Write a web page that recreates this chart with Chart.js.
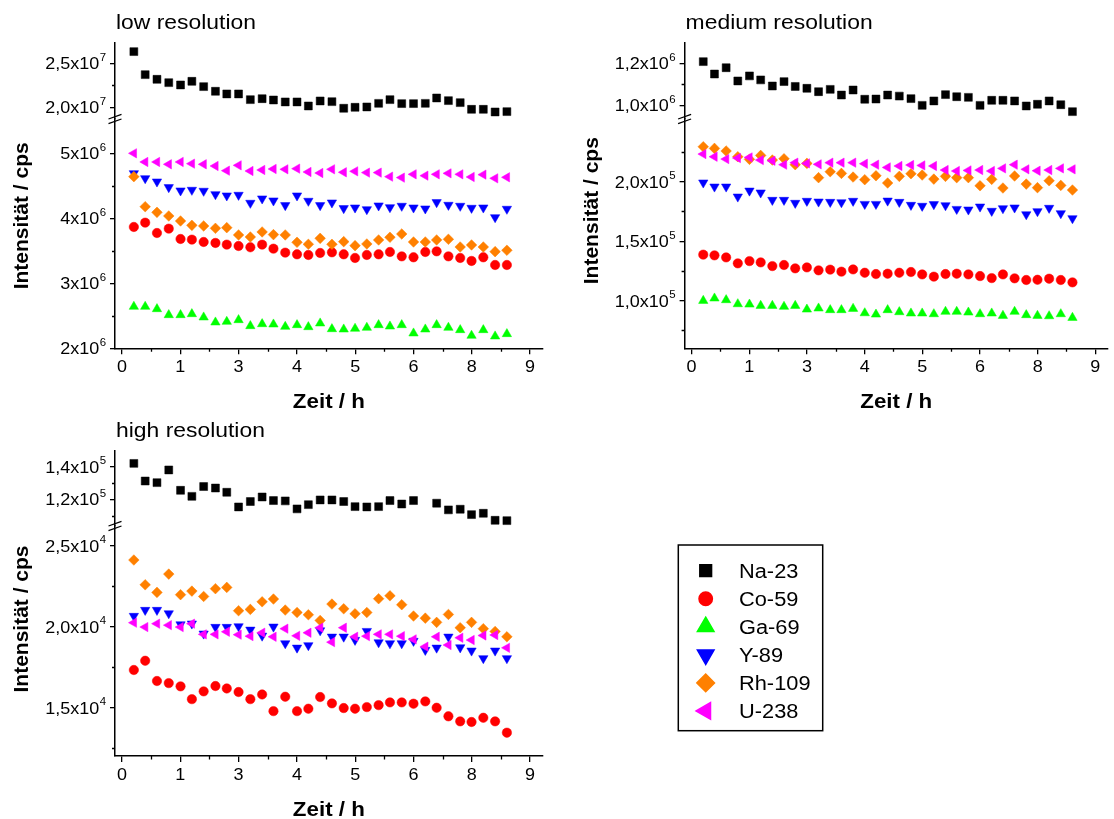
<!DOCTYPE html>
<html>
<head>
<meta charset="utf-8">
<script src="https://cdn.jsdelivr.net/npm/chart.js@4.4.1/dist/chart.umd.min.js"></script>
<style>
  body { margin: 0; background: #fff; width: 1114px; height: 819px; position: relative; overflow: hidden; }
  canvas { position: absolute; }
  #lowChart { left: 0; top: 0; }
  #medChart { left: 560px; top: 0; }
  #highChart { left: 0; top: 412px; }
</style>
</head>
<body>
<canvas id="lowChart" width="560" height="412" style="width:560px;height:412px"></canvas>
<canvas id="medChart" width="554" height="412" style="width:554px;height:412px"></canvas>
<canvas id="highChart" width="1114" height="407" style="width:1114px;height:407px"></canvas>
<script>
//---------------------------- daten ----------------------------
const zeit = [0.26, 0.51, 0.77, 1.03, 1.29, 1.54, 1.80, 2.06, 2.31, 2.57, 2.83, 3.09, 3.34, 3.60, 3.86, 4.11,
  4.37, 4.63, 4.89, 5.14, 5.40, 5.66, 5.91, 6.17, 6.43, 6.69, 6.94, 7.20, 7.46, 7.71, 7.97, 8.23, 8.49];

const isotope = ['Na-23', 'Co-59', 'Ga-69', 'Y-89', 'Rh-109', 'U-238'];
const farben = ['#000000', '#ff0000', '#00ff00', '#0000ff', '#ff8000', '#ff00ff'];
const formen = ['rect', 'circle', 'triangle', 'triangle', 'rectRot', 'triangle'];
const drehung = [0, 0, 0, 180, 0, -90];
const radien = [5.6, 4.7, 5.4, 5.4, 5.3, 5.4];

// low resolution
const lowNa = [2.633e7, 2.371e7, 2.318e7, 2.280e7, 2.254e7, 2.295e7, 2.235e7, 2.182e7, 2.152e7, 2.152e7, 2.087e7,
  2.098e7, 2.083e7, 2.061e7, 2.061e7, 2.015e7, 2.072e7, 2.064e7, 1.989e7, 2.000e7, 2.004e7, 2.045e7, 2.087e7,
  2.042e7, 2.042e7, 2.045e7, 2.106e7, 2.076e7, 2.053e7, 1.977e7, 1.977e7, 1.947e7, 1.951e7];
const lowCo = [3.867e6, 3.933e6, 3.774e6, 3.841e6, 3.682e6, 3.672e6, 3.636e6, 3.621e6, 3.595e6, 3.574e6, 3.554e6,
  3.595e6, 3.533e6, 3.472e6, 3.446e6, 3.436e6, 3.467e6, 3.477e6, 3.446e6, 3.390e6, 3.436e6, 3.446e6, 3.482e6,
  3.415e6, 3.400e6, 3.482e6, 3.492e6, 3.415e6, 3.390e6, 3.344e6, 3.400e6, 3.282e6, 3.282e6];
const lowGa = [2.641e6, 2.641e6, 2.605e6, 2.513e6, 2.513e6, 2.528e6, 2.477e6, 2.400e6, 2.410e6, 2.436e6, 2.344e6,
  2.374e6, 2.369e6, 2.333e6, 2.359e6, 2.328e6, 2.385e6, 2.297e6, 2.292e6, 2.303e6, 2.318e6, 2.359e6, 2.338e6,
  2.359e6, 2.231e6, 2.292e6, 2.359e6, 2.318e6, 2.282e6, 2.195e6, 2.282e6, 2.185e6, 2.221e6];
const lowY = [4.692e6, 4.615e6, 4.564e6, 4.477e6, 4.426e6, 4.436e6, 4.421e6, 4.369e6, 4.349e6, 4.359e6, 4.236e6,
  4.303e6, 4.272e6, 4.200e6, 4.349e6, 4.267e6, 4.200e6, 4.241e6, 4.154e6, 4.164e6, 4.138e6, 4.195e6, 4.169e6,
  4.190e6, 4.164e6, 4.149e6, 4.246e6, 4.205e6, 4.190e6, 4.159e6, 4.164e6, 4.015e6, 4.144e6];
const lowRh = [4.641e6, 4.179e6, 4.092e6, 4.036e6, 3.959e6, 3.892e6, 3.882e6, 3.846e6, 3.856e6, 3.744e6, 3.713e6,
  3.790e6, 3.749e6, 3.744e6, 3.631e6, 3.600e6, 3.692e6, 3.600e6, 3.641e6, 3.579e6, 3.605e6, 3.667e6, 3.708e6,
  3.759e6, 3.636e6, 3.636e6, 3.667e6, 3.677e6, 3.559e6, 3.590e6, 3.559e6, 3.487e6, 3.508e6];
const lowU = [5.000e6, 4.867e6, 4.867e6, 4.831e6, 4.867e6, 4.841e6, 4.831e6, 4.805e6, 4.733e6, 4.815e6, 4.728e6,
  4.744e6, 4.759e6, 4.754e6, 4.764e6, 4.713e6, 4.697e6, 4.754e6, 4.708e6, 4.723e6, 4.703e6, 4.703e6, 4.641e6,
  4.626e6, 4.677e6, 4.656e6, 4.677e6, 4.692e6, 4.677e6, 4.636e6, 4.672e6, 4.615e6, 4.631e6];

// medium resolution
const medNa = [1.208e6, 1.149e6, 1.179e6, 1.116e6, 1.140e6, 1.121e6, 1.092e6, 1.113e6, 1.090e6, 1.081e6, 1.065e6,
  1.076e6, 1.049e6, 1.073e6, 1.029e6, 1.030e6, 1.049e6, 1.044e6, 1.032e6, 1.000e6, 1.021e6, 1.051e6, 1.041e6,
  1.038e6, 1.000e6, 1.024e6, 1.024e6, 1.021e6, 0.997e6, 1.005e6, 1.021e6, 1.003e6, 0.970e6];
const medCo = [1.387e5, 1.381e5, 1.364e5, 1.314e5, 1.333e5, 1.322e5, 1.291e5, 1.300e5, 1.272e5, 1.280e5, 1.255e5,
  1.261e5, 1.244e5, 1.263e5, 1.235e5, 1.224e5, 1.227e5, 1.235e5, 1.241e5, 1.221e5, 1.202e5, 1.224e5, 1.227e5,
  1.221e5, 1.207e5, 1.190e5, 1.221e5, 1.188e5, 1.174e5, 1.176e5, 1.185e5, 1.174e5, 1.154e5];
const medGa = [1.000e5, 1.020e5, 1.006e5, 0.972e5, 0.969e5, 0.958e5, 0.958e5, 0.950e5, 0.958e5, 0.927e5, 0.936e5,
  0.922e5, 0.922e5, 0.933e5, 0.896e5, 0.885e5, 0.922e5, 0.905e5, 0.894e5, 0.894e5, 0.888e5, 0.908e5, 0.908e5,
  0.902e5, 0.888e5, 0.894e5, 0.874e5, 0.908e5, 0.880e5, 0.874e5, 0.871e5, 0.888e5, 0.857e5];
const medY = [1.992e5, 1.958e5, 1.958e5, 1.874e5, 1.924e5, 1.908e5, 1.846e5, 1.846e5, 1.821e5, 1.838e5, 1.832e5,
  1.829e5, 1.826e5, 1.838e5, 1.812e5, 1.812e5, 1.840e5, 1.829e5, 1.804e5, 1.796e5, 1.810e5, 1.801e5, 1.770e5,
  1.765e5, 1.790e5, 1.754e5, 1.776e5, 1.782e5, 1.725e5, 1.751e5, 1.779e5, 1.734e5, 1.692e5];
const medRh = [2.294e5, 2.280e5, 2.258e5, 2.210e5, 2.188e5, 2.221e5, 2.182e5, 2.193e5, 2.143e5, 2.154e5, 2.034e5,
  2.084e5, 2.070e5, 2.039e5, 2.017e5, 2.050e5, 1.989e5, 2.045e5, 2.067e5, 2.056e5, 2.022e5, 2.045e5, 2.034e5,
  2.034e5, 1.966e5, 2.020e5, 1.947e5, 2.048e5, 1.980e5, 1.950e5, 2.008e5, 1.969e5, 1.930e5];
const medU = [2.232e5, 2.210e5, 2.190e5, 2.199e5, 2.204e5, 2.182e5, 2.176e5, 2.143e5, 2.160e5, 2.154e5, 2.146e5,
  2.160e5, 2.160e5, 2.160e5, 2.151e5, 2.143e5, 2.120e5, 2.132e5, 2.140e5, 2.137e5, 2.132e5, 2.098e5, 2.090e5,
  2.095e5, 2.098e5, 2.090e5, 2.112e5, 2.143e5, 2.104e5, 2.092e5, 2.098e5, 2.112e5, 2.104e5];

// high resolution (Ga-69 liegt unterhalb der Skala)
const highNa = [1.420e5, 1.312e5, 1.302e5, 1.380e5, 1.255e5, 1.218e5, 1.278e5, 1.269e5, 1.243e5, 1.153e5, 1.186e5,
  1.214e5, 1.192e5, 1.190e5, 1.141e5, 1.167e5, 1.196e5, 1.196e5, 1.186e5, 1.155e5, 1.153e5, 1.155e5, 1.192e5,
  1.171e5, 1.192e5, null, 1.176e5, 1.135e5, 1.139e5, 1.106e5, 1.114e5, 1.071e5, 1.069e5];
const highCo = [1.733e4, 1.790e4, 1.665e4, 1.652e4, 1.632e4, 1.553e4, 1.601e4, 1.634e4, 1.619e4, 1.597e4, 1.553e4,
  1.582e4, 1.479e4, 1.568e4, 1.479e4, 1.494e4, 1.566e4, 1.527e4, 1.498e4, 1.494e4, 1.504e4, 1.516e4, 1.533e4,
  1.533e4, 1.525e4, 1.539e4, 1.500e4, 1.447e4, 1.416e4, 1.412e4, 1.438e4, 1.416e4, 1.346e4];
const highY = [2.066e4, 2.103e4, 2.103e4, 2.082e4, 2.014e4, 2.019e4, 1.957e4, 1.998e4, 1.998e4, 2.002e4, 1.981e4,
  1.944e4, 2.000e4, 1.897e4, 1.870e4, 1.885e4, 1.977e4, 1.938e4, 1.938e4, 1.918e4, 1.973e4, 1.903e4, 1.897e4,
  1.897e4, 1.912e4, 1.856e4, 1.870e4, 1.938e4, 1.872e4, 1.852e4, 1.805e4, 1.852e4, 1.805e4];
const highRh = [2.412e4, 2.259e4, 2.212e4, 2.325e4, 2.198e4, 2.220e4, 2.187e4, 2.235e4, 2.243e4, 2.099e4, 2.107e4,
  2.154e4, 2.171e4, 2.103e4, 2.088e4, 2.074e4, 2.039e4, 2.140e4, 2.111e4, 2.080e4, 2.088e4, 2.173e4, 2.191e4,
  2.136e4, 2.066e4, 2.053e4, 2.027e4, 2.076e4, 1.994e4, 2.027e4, 1.988e4, 1.971e4, 1.938e4];
const highU = [2.025e4, 1.998e4, 2.019e4, 2.010e4, 1.998e4, 2.019e4, 1.953e4, 1.953e4, 1.969e4, 1.951e4, 1.942e4,
  1.963e4, 1.938e4, 1.988e4, 1.944e4, 1.963e4, 1.994e4, 1.905e4, 1.994e4, 1.938e4, 1.942e4, 1.953e4, 1.953e4,
  1.942e4, 1.922e4, 1.877e4, 1.938e4, 1.887e4, 1.932e4, 1.918e4, 1.946e4, 1.949e4, 1.870e4];

// achsen: zeit-ticks (Origin rundet 9/7-Schritte auf ganze Zahlen)
const xTickWerte = [0, 1.2857, 2.5714, 3.8571, 5.1429, 6.4286, 7.7143, 9];
const xTickText = ['0', '1', '3', '4', '5', '6', '8', '9'];
const xMinor = [0.6429, 1.9286, 3.2143, 4.5, 5.7857, 7.0714, 8.3571];

const lowUpTicks = [2.0e7, 2.5e7], lowUpMinor = [2.25e7];
const lowLowTicks = [2e6, 3e6, 4e6, 5e6], lowLowMinor = [2.5e6, 3.5e6, 4.5e6];
const medUpTicks = [1.0e6, 1.2e6], medUpMinor = [1.1e6];
const medLowTicks = [1.0e5, 1.5e5, 2.0e5], medLowMinor = [0.75e5, 1.25e5, 1.75e5, 2.25e5];
const highUpTicks = [1.2e5, 1.4e5], highUpMinor = [1.1e5, 1.3e5];
const highLowTicks = [1.5e4, 2.0e4, 2.5e4], highLowMinor = [1.25e4, 1.75e4, 2.25e4];

//---------------------------- zeichnen ----------------------------
const SCHRIFT = '"Liberation Sans", Arial, Helvetica, sans-serif';
const BREITE = 1.09;   // schrift leicht gedehnt

function text(ctx, s, x, y, font, align) {
    ctx.save();
    ctx.font = font;
    ctx.textAlign = align;
    ctx.textBaseline = 'alphabetic';
    ctx.translate(x, y);
    ctx.scale(BREITE, 1);
    ctx.fillText(s, 0, 0);
    ctx.restore();
}

function marker(ctx, i, x, y, r) {
    ctx.fillStyle = farben[i];
    ctx.strokeStyle = farben[i];
    Chart.helpers.drawPoint(ctx, { pointStyle: formen[i], rotation: drehung[i], radius: r, borderWidth: 0.5 }, x, y);
}

const deko = {
    id: 'deko',
    afterDraw(chart, args, o) {
        const ctx = chart.ctx;
        const a = chart.chartArea;
        const sx = chart.scales.x;
        ctx.save();
        ctx.fillStyle = '#000';
        ctx.strokeStyle = '#000';
        ctx.lineWidth = 1.3;

        // kleine ticks
        ctx.beginPath();
        xMinor.forEach(v => {
            const px = Math.round(sx.getPixelForValue(v)) + 0.5;
            ctx.moveTo(px, a.bottom);
            ctx.lineTo(px, a.bottom + 3.5);
        });
        ['yUp', 'yLow'].forEach(id => {
            const s = chart.scales[id];
            o.achsen[id].minor.forEach(v => {
                const py = Math.round(s.getPixelForValue(v)) + 0.5;
                ctx.moveTo(a.left, py);
                ctx.lineTo(a.left - 3, py);
            });
        });
        ctx.stroke();

        // x beschriftung
        xTickWerte.forEach((v, k) => {
            text(ctx, xTickText[k], sx.getPixelForValue(v), a.bottom + 24, '16.5px ' + SCHRIFT, 'center');
        });

        // y beschriftung, z.B. 2,5x10^7
        ['yUp', 'yLow'].forEach(id => {
            const s = chart.scales[id];
            const ax = o.achsen[id];
            ax.ticks.forEach(v => {
                const py = s.getPixelForValue(v);
                const m = (v / Math.pow(10, ax.exp)).toFixed(ax.dez).replace('.', ',');
                ctx.font = '10.5px ' + SCHRIFT;
                const ew = ctx.measureText(String(ax.exp)).width * BREITE;
                const rechts = a.left - 9;
                text(ctx, String(ax.exp), rechts - ew, py - 2.3, '10.5px ' + SCHRIFT, 'left');
                text(ctx, m + 'x10', rechts - ew - 0.5, py + 5.9, '16.5px ' + SCHRIFT, 'right');
            });
        });

        // achsenbruch
        const B = chart.scales.yUp.bottom;
        ctx.lineWidth = 1.2;
        [-2.3, 2.3].forEach(d => {
            ctx.beginPath();
            ctx.moveTo(a.left - 6.5, B + d + 2.3);
            ctx.lineTo(a.left + 6.5, B + d - 2.3);
            ctx.stroke();
        });

        // titel
        text(ctx, o.titel, a.left + 1, o.titelY, '21px ' + SCHRIFT, 'left');
        text(ctx, 'Zeit / h', (a.left + a.right) / 2, a.bottom + 60, 'bold 20.5px ' + SCHRIFT, 'center');
        ctx.save();
        ctx.translate(a.left - 87, o.yTitelY);
        ctx.rotate(-Math.PI / 2);
        ctx.font = 'bold 21px ' + SCHRIFT;
        ctx.textAlign = 'center';
        ctx.textBaseline = 'alphabetic';
        ctx.fillText('Intensität / cps', 0, 0);
        ctx.restore();

        // legende
        if (o.legende) {
            const L = o.legende;
            ctx.lineWidth = 1.5;
            ctx.strokeStyle = '#000';
            ctx.strokeRect(L.x, L.y, L.w, L.h);
            isotope.forEach((name, i) => {
                const y = L.y + 25.7 + i * 28.05;
                marker(ctx, i, L.x + 27.4, y, L.r[i]);
                ctx.fillStyle = '#000';
                text(ctx, name, L.x + 60.7, y + 7, '20px ' + SCHRIFT, 'left');
            });
        }
        ctx.restore();
    }
};

function reihe(i, werte, achse) {
    return {
        label: isotope[i],
        data: zeit.map((t, k) => ({ x: t, y: werte[k] })).filter(p => p.y !== null),
        yAxisID: achse,
        showLine: false,
        pointStyle: formen[i],
        rotation: drehung[i],
        pointRadius: radien[i],
        pointBackgroundColor: farben[i],
        pointBorderColor: farben[i],
        pointBorderWidth: 0.5,
        order: 10 - i
    };
}

function yAchse(oben, min, max, ticks, gewicht) {
    return {
        type: 'linear',
        position: 'left',
        stack: 'intensitaet',
        stackWeight: gewicht,
        weight: oben ? 1 : 0,
        min: min,
        max: max,
        afterBuildTicks: s => { s.ticks = ticks.map(v => ({ value: v })); },
        afterFit: s => { s.width = 70; },
        ticks: { display: false },
        grid: { drawOnChartArea: false, drawTicks: true, tickLength: 5, color: '#000', lineWidth: 1.3 },
        border: { display: true, color: '#000', width: 1.5 }
    };
}

function panel(id, p) {
    const el = document.getElementById(id);
    return new Chart(el, {
        type: 'scatter',
        data: { datasets: p.datasets },
        options: {
            responsive: false,
            animation: false,
            events: [],
            layout: {
                padding: {
                    left: p.left - 70,
                    right: el.width - p.right,
                    top: p.top,
                    bottom: el.height - p.bottom - 30
                }
            },
            plugins: {
                legend: { display: false },
                tooltip: { enabled: false },
                deko: p.deko
            },
            scales: {
                x: {
                    type: 'linear',
                    min: -0.156,
                    max: 9.28,
                    afterBuildTicks: s => { s.ticks = xTickWerte.map(v => ({ value: v })); },
                    afterFit: s => { s.height = 30; },
                    ticks: { display: false },
                    grid: { drawOnChartArea: false, drawTicks: true, tickLength: 6, color: '#000', lineWidth: 1.3 },
                    border: { display: true, color: '#000', width: 1.5 }
                },
                yLow: yAchse(false, p.lowMin, p.lowMax, p.lowTicks, p.bottom - p.bruch),
                yUp: yAchse(true, p.upMin, p.upMax, p.upTicks, p.bruch - p.top)
            }
        },
        plugins: [deko]
    });
}

//----------------------------low resolution----------------------------
panel('lowChart', {
    left: 115, right: 542.7, top: 42.7, bruch: 119, bottom: 348.3,
    upMin: 1.867e7, upMax: 2.734e7, upTicks: lowUpTicks,
    lowMin: 2e6, lowMax: 5.528e6, lowTicks: lowLowTicks,
    datasets: [
        reihe(0, lowNa, 'yUp'), reihe(1, lowCo, 'yLow'), reihe(2, lowGa, 'yLow'),
        reihe(3, lowY, 'yLow'), reihe(4, lowRh, 'yLow'), reihe(5, lowU, 'yLow')
    ],
    deko: {
        titel: 'low resolution', titelY: 29.3, yTitelY: 215.8,
        achsen: {
            yUp: { ticks: lowUpTicks, minor: lowUpMinor, exp: 7, dez: 1 },
            yLow: { ticks: lowLowTicks, minor: lowLowMinor, exp: 6, dez: 0 }
        }
    }
});

//----------------------------medium resolution----------------------------
panel('medChart', {
    left: 124.6, right: 553, top: 42.7, bruch: 119, bottom: 348.3,
    upMin: 0.935e6, upMax: 1.298e6, upTicks: medUpTicks,
    lowMin: 0.6e5, lowMax: 2.527e5, lowTicks: medLowTicks,
    datasets: [
        reihe(0, medNa, 'yUp'), reihe(1, medCo, 'yLow'), reihe(2, medGa, 'yLow'),
        reihe(3, medY, 'yLow'), reihe(4, medRh, 'yLow'), reihe(5, medU, 'yLow')
    ],
    deko: {
        titel: 'medium resolution', titelY: 29.3, yTitelY: 210.7,
        achsen: {
            yUp: { ticks: medUpTicks, minor: medUpMinor, exp: 6, dez: 1 },
            yLow: { ticks: medLowTicks, minor: medLowMinor, exp: 5, dez: 1 }
        }
    }
});

//----------------------------high resolution + legende----------------------------
panel('highChart', {
    left: 115, right: 542.7, top: 38.7, bruch: 114, bottom: 344,
    upMin: 1.036e5, upMax: 1.498e5, upTicks: highUpTicks,
    lowMin: 1.202e4, lowMax: 2.622e4, lowTicks: highLowTicks,
    datasets: [
        reihe(0, highNa, 'yUp'), reihe(1, highCo, 'yLow'),
        reihe(3, highY, 'yLow'), reihe(4, highRh, 'yLow'), reihe(5, highU, 'yLow')
    ],
    deko: {
        titel: 'high resolution', titelY: 24.7, yTitelY: 207,
        achsen: {
            yUp: { ticks: highUpTicks, minor: highUpMinor, exp: 5, dez: 1 },
            yLow: { ticks: highLowTicks, minor: highLowMinor, exp: 4, dez: 1 }
        },
        legende: { x: 678.3, y: 133, w: 144.4, h: 185.7, r: [8.3, 6.7, 9.6, 9.6, 8.8, 9.6] }
    }
});
</script>
</body>
</html>
